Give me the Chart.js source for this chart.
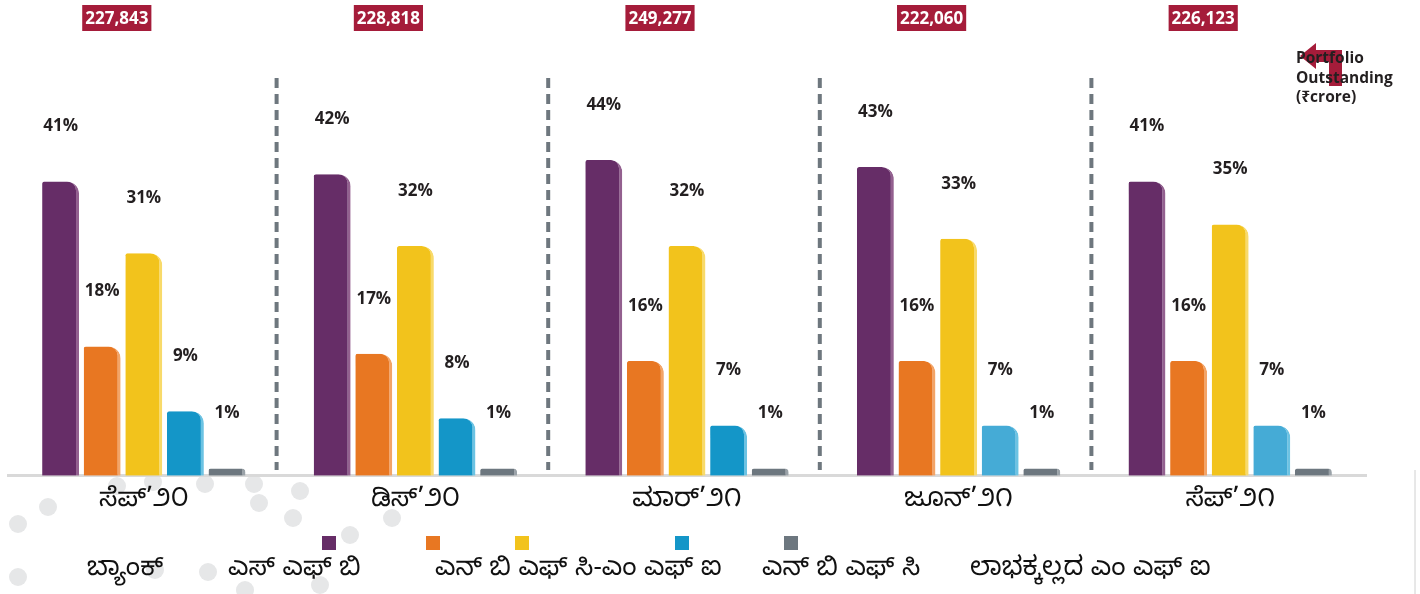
<!DOCTYPE html>
<html>
<head>
<meta charset="utf-8">
<script src="https://cdn.jsdelivr.net/npm/chart.js@4.4.0/dist/chart.umd.min.js"></script>
<style>
  body { margin: 0; background: #fff; }
  #wrap { width: 1420px; height: 594px; position: relative; }
</style>
</head>
<body>
<div id="wrap"><canvas id="barChart" width="1420" height="594"></canvas></div>
<script>
// data
const categories = ['ಸೆಪ್’೨೦', 'ಡಿಸ್’೨೦', 'ಮಾರ್’೨೧', 'ಜೂನ್’೨೧', 'ಸೆಪ್’೨೧'];
const seriesNames = ['ಬ್ಯಾಂಕ್', 'ಎಸ್ ಎಫ್ ಬಿ', 'ಎನ್ ಬಿ ಎಫ್ ಸಿ-ಎಂ ಎಫ್ ಐ', 'ಎನ್ ಬಿ ಎಫ್ ಸಿ', 'ಲಾಭಕ್ಕಲ್ಲದ ಎಂ ಎಫ್ ಐ'];
const bankShare = [41, 42, 44, 43, 41];
const sfbShare = [18, 17, 16, 16, 16];
const nbfcMfiShare = [31, 32, 32, 33, 35];
const nbfcShare = [9, 8, 7, 7, 7];
const notForProfitShare = [1, 1, 1, 1, 1];
const portfolioOutstanding = ['227,843', '228,818', '249,277', '222,060', '226,123'];
const portfolioTitle = ['Portfolio', 'Outstanding', '(₹crore)'];

const fills = ['#662d67', '#e87722', '#f2c31c', '#1496c8', '#6d777f'];
const edges = ['#93608f', '#f3a467', '#f8da6a', '#6cc3e3', '#9aa2a8'];
const kn = '"Noto Sans Kannada", "Noto Sans", sans-serif';
const txt = '"Open Sans", "Noto Sans", sans-serif';

const allSeries = [bankShare, sfbShare, nbfcMfiShare, nbfcShare, notForProfitShare];
const datasets = allSeries.map((vals, i) => ({
  label: seriesNames[i],
  data: vals,
  backgroundColor: i === 3 ? ['#1496c8', '#1496c8', '#1496c8', '#45abd6', '#45abd6'] : fills[i],
  borderColor: edges[i],
  borderWidth: { top: 0, left: 0, bottom: 0, right: 3 },
  borderSkipped: false,
  borderRadius: { topLeft: 2, topRight: 12, bottomLeft: 0, bottomRight: 0 },
  categoryPercentage: 0.766,
  barPercentage: 0.887
}));

// grey dots in the background, bottom left
const dots = [[18, 524], [48, 507], [18, 577], [117, 486], [153, 482], [205, 484], [254, 484], [300, 491],
  [259, 503], [293, 518], [155, 570], [208, 572], [392, 518], [350, 535], [245, 590], [320, 585]];

const decor = {
  id: 'decor',
  beforeDraw(chart) {
    const ctx = chart.ctx;
    ctx.save();
    ctx.fillStyle = '#e6e7e8';
    dots.forEach(d => { ctx.beginPath(); ctx.arc(d[0], d[1], 9, 0, Math.PI * 2); ctx.fill(); });
    ctx.restore();
  },
  afterDatasetsDraw(chart) {
    const ctx = chart.ctx;
    const x = chart.scales.x;
    ctx.save();
    // dashed separators
    ctx.strokeStyle = '#6e777e';
    ctx.lineWidth = 4;
    ctx.setLineDash([10, 6]);
    for (let i = 1; i < categories.length; i++) {
      const px = (x.getPixelForValue(i - 1) + x.getPixelForValue(i)) / 2 - 3;
      ctx.beginPath(); ctx.moveTo(px, 78); ctx.lineTo(px, 470); ctx.stroke();
    }
    ctx.setLineDash([]);
    // percentage labels
    ctx.fillStyle = '#231f20';
    ctx.font = 'bold 17px ' + txt;
    ctx.textAlign = 'center';
    ctx.textBaseline = 'middle';
    chart.data.datasets.forEach((ds, di) => {
      chart.getDatasetMeta(di).data.forEach((bar, i) => {
        ctx.fillText(ds.data[i] + '%', bar.x, bar.y - 55);
      });
    });
    // portfolio boxes
    ctx.font = 'bold 17px ' + txt;
    portfolioOutstanding.forEach((v, i) => {
      const cx = x.getPixelForValue(i) - 27;
      const w = ctx.measureText(v).width + 6;
      ctx.fillStyle = '#a51c3a';
      ctx.fillRect(cx - w / 2, 5, w, 26);
      ctx.fillStyle = '#ffffff';
      ctx.fillText(v, cx, 19);
    });
    // hook arrow + title
    ctx.fillStyle = '#a51c3a';
    ctx.beginPath();
    ctx.moveTo(1300, 56); ctx.lineTo(1316, 43); ctx.lineTo(1316, 50); ctx.lineTo(1342, 50);
    ctx.lineTo(1342, 86); ctx.lineTo(1329, 86); ctx.lineTo(1329, 62); ctx.lineTo(1316, 62);
    ctx.lineTo(1316, 69); ctx.closePath(); ctx.fill();
    ctx.fillStyle = '#231f20';
    ctx.font = 'bold 15.5px ' + txt;
    ctx.textAlign = 'left';
    portfolioTitle.forEach((t, i) => ctx.fillText(t, 1296, 59 + i * 19.5));
    // legend: swatches on one row, names on the next
    const swatchX = [322, 426, 515, 675, 784];
    const nameX = [87, 228, 435, 762, 970];
    ctx.font = '26px ' + kn;
    seriesNames.forEach((n, i) => {
      ctx.fillStyle = fills[i];
      ctx.fillRect(swatchX[i], 536, 14, 14);
      ctx.fillStyle = '#111111';
      ctx.fillText(n, nameX[i], 572);
    });
    // frame line at right edge
    ctx.strokeStyle = '#d0d0d0';
    ctx.lineWidth = 1;
    ctx.beginPath(); ctx.moveTo(1415, 470); ctx.lineTo(1415, 594); ctx.stroke();
    ctx.restore();
  }
};

new Chart(document.getElementById('barChart'), {
  type: 'bar',
  data: { labels: categories, datasets: datasets },
  options: {
    responsive: false,
    animation: false,
    layout: { padding: { left: 8, right: 54, top: 45, bottom: 63 } },
    plugins: { legend: { display: false }, tooltip: { enabled: false } },
    scales: {
      x: {
        grid: { display: false, drawTicks: false },
        border: { display: true, color: '#d9d9d9', width: 3 },
        ticks: { color: '#111111', font: { family: kn, size: 26 }, padding: 12 }
      },
      y: { display: false, min: 0, max: 60 }
    }
  },
  plugins: [decor]
});
</script>
</body>
</html>
